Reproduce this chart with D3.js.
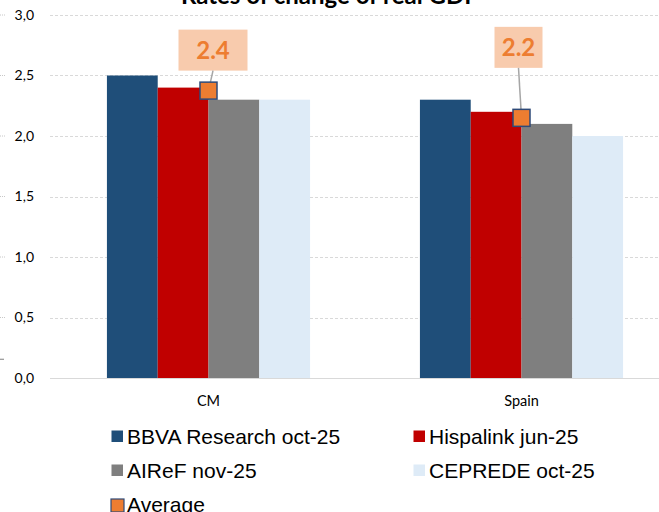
<!DOCTYPE html>
<html>
<head>
<meta charset="utf-8">
<script src="https://cdn.jsdelivr.net/npm/d3@7/dist/d3.min.js"></script>
<style>
html,body{margin:0;padding:0;background:#fff;overflow:hidden;}
svg{display:block;}
</style>
</head>
<body>
<svg id="chart" width="659" height="512"></svg>
<script>
// ---- data ----
const categories = ["CM", "Spain"];
const seriesNames = ["BBVA Research oct-25", "Hispalink jun-25", "AIReF nov-25", "CEPREDE oct-25"];
const bbvaValues = [2.5, 2.3];
const hispalinkValues = [2.4, 2.2];
const airefValues = [2.3, 2.1];
const cepredeValues = [2.3, 2.0];
const averageValues = [2.375, 2.15];
const averageLabels = ["2.4", "2.2"];
const yTicks = [0, 0.5, 1.0, 1.5, 2.0, 2.5, 3.0];
const titleText = "Rates of change of real GDP";

// ---- style / layout ----
const seriesColors = ["#1F4E79", "#C00000", "#7F7F7F", "#DEEBF7"];
const avgColor = "#ED7D31";
const avgStroke = "#2E4A78";
const labelBoxFill = "#F8CBAD";
// label box placement relative to marker: [dx, dy, width, height]
const labelBoxes = [[4.5, -40.5, 69, 41], [-3, -70.5, 48, 41]];

const seriesValues = [bbvaValues, hispalinkValues, airefValues, cepredeValues];

const svg = d3.select("#chart");

const x0 = d3.scaleBand().domain(categories).range([52, 678]).paddingInner(0.351).paddingOuter(0.1755);
const x1 = d3.scaleBand().domain(seriesNames).range([0, x0.bandwidth()]).padding(0);
const y = d3.scaleLinear().domain([0, 3]).range([378, 15]);

// left-edge faint marks
svg.append("g").selectAll("line").data(yTicks.filter(d => d > 0)).join("line")
  .attr("x1", 0).attr("x2", 5).attr("y1", d => y(d)).attr("y2", d => y(d))
  .attr("stroke", "#C8C8C8").attr("stroke-width", 1).attr("stroke-dasharray", "1,1");
svg.append("line").attr("x1", 0).attr("x2", 4).attr("y1", y(0.155)).attr("y2", y(0.155))
  .attr("stroke", "#7F7F7F").attr("stroke-width", 1);

// gridlines
svg.append("g").selectAll("line").data(yTicks.filter(d => d > 0)).join("line")
  .attr("x1", 50).attr("x2", 659).attr("y1", d => Math.round(y(d)) + 0.5).attr("y2", d => Math.round(y(d)) + 0.5)
  .attr("stroke", "#D9D9D9").attr("stroke-width", 1).attr("stroke-dasharray", "3,2");

// y axis labels
const yAxis = d3.axisLeft(y).tickValues(yTicks).tickSize(0).tickPadding(0)
  .tickFormat(d => d3.format(".1f")(d).replace(".", ","));
const yg = svg.append("g").attr("transform", "translate(34,0)").call(yAxis);
yg.select(".domain").remove();
yg.selectAll("text").attr("font-family", "Lato, sans-serif").attr("font-size", 14).attr("fill", "#000");

// bars
const groups = svg.append("g").selectAll("g").data(categories).join("g")
  .attr("transform", d => `translate(${x0(d)},0)`);
groups.selectAll("rect").data((c, ci) => seriesNames.map((s, si) => ({s, si, v: seriesValues[si][ci]}))).join("rect")
  .attr("x", d => x1(d.s)).attr("width", x1.bandwidth())
  .attr("y", d => y(d.v)).attr("height", d => y(0) - y(d.v))
  .attr("fill", d => seriesColors[d.si]);

// baseline
svg.append("line").attr("x1", 50).attr("x2", 659).attr("y1", y(0) + 0.5).attr("y2", y(0) + 0.5)
  .attr("stroke", "#D9D9D9").attr("stroke-width", 1.2);

// x axis labels
const xAxis = d3.axisBottom(x0).tickSize(0).tickPadding(0);
const xg = svg.append("g").attr("transform", "translate(0,396)").call(xAxis);
xg.select(".domain").remove();
xg.selectAll("text").attr("font-family", "Lato, sans-serif").attr("font-size", 14.5).attr("fill", "#000");

// average markers, leader lines, labels
const avgData = categories.map((c, i) => ({c, v: averageValues[i], label: averageLabels[i], box: labelBoxes[i]}));
const ag = svg.append("g").selectAll("g").data(avgData).join("g")
  .attr("transform", d => `translate(${x0(d.c) + x0.bandwidth() / 2},${y(d.v)})`);
ag.append("rect")
  .attr("x", d => d.box[0] - d.box[2] / 2).attr("y", d => d.box[1] - d.box[3] / 2)
  .attr("width", d => d.box[2]).attr("height", d => d.box[3]).attr("fill", labelBoxFill);
ag.append("line")
  .attr("x1", d => d.box[0]).attr("y1", d => d.box[1] + d.box[3] / 2)
  .attr("x2", 0).attr("y2", 0).attr("stroke", "#A6A6A6").attr("stroke-width", 1.5);
ag.append("text")
  .attr("x", d => d.box[0]).attr("y", d => d.box[1] + 8.5)
  .attr("text-anchor", "middle").attr("font-family", "Lato, sans-serif").attr("font-weight", "bold")
  .attr("font-size", 24).attr("fill", avgColor).text(d => d.label);
ag.append("rect").attr("x", -8.5).attr("y", -8.5).attr("width", 17).attr("height", 17)
  .attr("fill", avgColor).attr("stroke", avgStroke).attr("stroke-width", 1.5);

// title
svg.append("text").attr("x", 330).attr("y", 4).attr("text-anchor", "middle")
  .attr("font-family", "Lato, sans-serif").attr("font-weight", "bold").attr("font-size", 24)
  .attr("fill", "#000").text(titleText);

// legend
const legendItems = seriesNames.map((n, i) => ({name: n, color: seriesColors[i], avg: false}))
  .concat([{name: "Average", color: avgColor, avg: true}]);
const legendCols = [111, 413];
const legendRows = [444, 478, 512];
const lg = svg.append("g").selectAll("g").data(legendItems).join("g")
  .attr("transform", (d, i) => `translate(${legendCols[i % 2]},${legendRows[Math.floor(i / 2)]})`);
lg.append("rect")
  .attr("x", d => d.avg ? 0 : 0.5).attr("y", d => d.avg ? -13 : -13.5)
  .attr("width", d => d.avg ? 13 : 11.5).attr("height", d => d.avg ? 13 : 11.5)
  .attr("fill", d => d.color)
  .attr("stroke", d => d.avg ? avgStroke : "none").attr("stroke-width", 1.2);
lg.append("text").attr("x", 16).attr("y", 0)
  .attr("font-family", "'Liberation Sans', Arial, sans-serif").attr("font-size", 21)
  .attr("fill", "#000").text(d => d.name);
</script>
</body>
</html>
